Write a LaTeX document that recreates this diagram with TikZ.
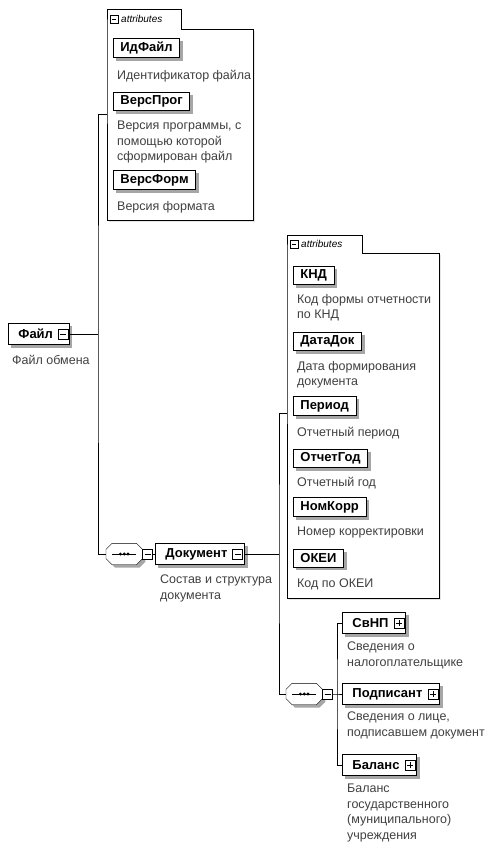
\documentclass[tikz,border=0pt]{standalone}
\usepackage{fontspec}
\setmainfont{Liberation Sans}

\pgfdeclarelayer{bg}
\pgfdeclarelayer{shadow}
\pgfsetlayers{bg,shadow,main}

\tikzset{
	elem/.style={draw, fill=white, anchor=west, line width=0.8pt, font=\bfseries\fontsize{13}{15}\selectfont, minimum height=21pt, inner xsep=0pt},
	attr/.style={elem, minimum height=18pt, inner xsep=7pt},
	desc/.style={anchor=north west, align=left, text=black!75, font=\fontsize{12.5}{15.5}\selectfont, inner sep=0pt},
	minusicon/.style={draw, fill=white, line width=0.6pt, minimum size=10pt, inner sep=0pt, path picture={\draw[line width=0.7pt] ([xshift=2pt]path picture bounding box.west) -- ([xshift=-2pt]path picture bounding box.east);}},
	plusicon/.style={minusicon, path picture={\draw[line width=0.7pt] ([xshift=2pt]path picture bounding box.west) -- ([xshift=-2pt]path picture bounding box.east) ([yshift=2pt]path picture bounding box.south) -- ([yshift=-2pt]path picture bounding box.north);}},
	seqbox/.style={anchor=west, minimum width=36pt, minimum height=21pt, inner sep=0pt},
	tabtext/.style={anchor=west, inner sep=0pt, font=\itshape\fontsize{10}{12}\selectfont},
	shadowfill/.style={fill=black!35}
}
\newcommand{\octpath}[2]{([shift={(#2+6,#2)}]#1.north west) -- ([shift={(#2-6,#2)}]#1.north east) -- ([shift={(#2,#2+6)}]#1.north east) -- ([shift={(#2,#2-6)}]#1.south east) -- ([shift={(#2-6,#2)}]#1.south east) -- ([shift={(#2+6,#2)}]#1.south west) -- ([shift={(#2,#2-6)}]#1.south west) -- ([shift={(#2,#2+6)}]#1.north west) -- cycle}
\newcommand{\seqoct}[1]{%
	\begin{pgfonlayer}{shadow}\fill[shadowfill] \octpath{#1}{3};\end{pgfonlayer}
	\draw[fill=white] \octpath{#1}{0};
	\draw[line width=0.8pt] ([xshift=6pt]#1.west) -- ([xshift=-6pt]#1.east);
	\foreach \d in {-3.8,0,3.8} \fill ([xshift=\d pt]#1.center) circle (1.6);
}

\begin{document}
\begin{tikzpicture}[x=1pt, y=-1pt, line width=0.8pt]
	\useasboundingbox (0,0) rectangle (500,846);
	\begin{pgfonlayer}{bg}
		\fill[black!10] (109,31) -- (255,31) -- (255,222) -- (109,222) -- cycle;
		\draw[fill=white] (107,29) -- (107,9) -- (181,9) -- (181,29) -- (253,29) -- (253,220) -- (107,220) -- cycle;
		\fill[black!10] (289,255) -- (441,255) -- (441,600) -- (289,600) -- cycle;
		\draw[fill=white] (287,253) -- (287,235) -- (362,235) -- (362,253) -- (439,253) -- (439,598) -- (287,598) -- cycle;
	\end{pgfonlayer}
	\node[minusicon, minimum size=8pt] (t1x) at (114,19) {};
	\node[tabtext] (t1) at (121,19) {attributes};
	\node[minusicon, minimum size=8pt] (t2x) at (294,244) {};
	\node[tabtext] (t2) at (301,244) {attributes};
	\coordinate (a1in) at (107,114);
	\coordinate (a2in) at (287,413);
	\foreach \n/\p/\x/\y in {idf/ИдФайл/113/48, vp/ВерсПрог/113/101.5, vf/ВерсФорм/113/180, knd/КНД/293/275.5, dd/ДатаДок/293/341, per/Период/293/406, og/ОтчетГод/293/458.5, nk/НомКорр/293/507, okei/ОКЕИ/293/558} {
		\node[attr] (\n) at (\x,\y) {\p};
	}
	\node[elem] (fil) at (8,334) {\kern10pt Файл\kern16pt};
	\node[minusicon] (filx) at ([xshift=-6pt]fil.east) {};
	\node[seqbox] (seq1) at (106,554) {};
	\seqoct{seq1}
	\node[minusicon, anchor=west] (seq1x) at (seq1.east) {};
	\node[elem] (doc) at (155,554) {\kern10pt Документ\kern17pt};
	\node[minusicon] (docx) at ([xshift=-7pt]doc.east) {};
	\node[seqbox] (seq2) at (286,694) {};
	\seqoct{seq2}
	\node[minusicon, anchor=west] (seq2x) at (seq2.east) {};
	\foreach \n/\p/\y in {svnp/СвНП/623, podp/Подписант/694, bal/Баланс/765} {
		\node[elem] (\n) at (342,\y) {\kern10pt \p\kern17pt};
		\node[plusicon] (\n x) at ([xshift=-7pt]\n.east) {};
	}
	\begin{pgfonlayer}{shadow}
		\foreach \n in {idf,vp,vf,knd,dd,per,og,nk,okei,fil,doc,svnp,podp,bal} \fill[shadowfill] ([shift={(3,3)}]\n.north west) rectangle ([shift={(3,3)}]\n.south east);
	\end{pgfonlayer}
	\foreach \n/\x/\y/\t in {idfd/117/76/{Идентификатор файла}, vpd/117/127/{Версия программы, с\\помощью которой\\сформирован файл}, vfd/117/207/{Версия формата}, kndd/297/300/{Код формы отчетности\\по КНД}, ddd/297/367/{Дата формирования\\документа}, perd/297/433/{Отчетный период}, ogd/297/483/{Отчетный год}, nkd/297/533/{Номер корректировки}, okeid/297/585/{Код по ОКЕИ}, fild/12/361/{Файл обмена}, docd/160/581/{Состав и структура\\документа}, svnpd/347/648/{Сведения о\\налогоплательщике}, podpd/347/718/{Сведения о лице,\\подписавшем документ}, bald/347/790/{Баланс\\государственного\\(муниципального)\\учреждения}} {
		\node[desc] (\n) at (\x,\y-6) {\t};
	}
	\coordinate (fj) at (98,334);
	\coordinate (dj) at (279,554);
	\coordinate (sj) at (337,694);
	\draw (fil.east) -- (fj);
	\draw (a1in) -| (fj) |- (seq1.west);
	\draw (seq1x.east) -- (doc.west);
	\draw (doc.east) -- (dj);
	\draw (a2in) -| (dj) |- (seq2.west);
	\draw (seq2x.east) -- (sj) -- (podp.west);
	\draw (svnp.west) -| (sj) |- (bal.west);
\end{tikzpicture}
\end{document}
